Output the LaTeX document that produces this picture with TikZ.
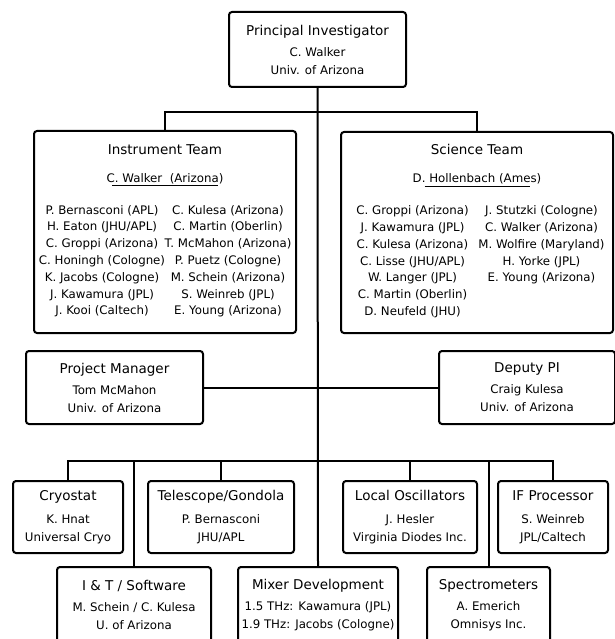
\documentclass[tikz,border=0pt]{standalone}
\usepackage{fontspec}
\setmainfont{DejaVu Sans}
\usetikzlibrary{positioning}
\newcommand{\ttl}{\fontsize{13.5}{16}\selectfont}
\newcommand{\nm}[2][126pt]{\makebox[#1]{#2}}

\begin{document}
\begin{tikzpicture}[x=1pt,y=-1pt,
    box/.style={draw, line width=2pt, rounded corners=3pt, inner sep=0pt, align=center,
      font=\fontsize{11.8}{18}\selectfont},
    link/.style={line width=2pt}]
  \useasboundingbox (0,0) rectangle (614,639);
  % top
  \node[box, minimum width=177pt, minimum height=75pt] (pi) at (317.5,49.5)
    {{\ttl Principal Investigator}\\[3pt] C. Walker\\ Univ. of Arizona};
  % teams
  \node[box, minimum width=262pt, minimum height=202pt] (inst) at (165,232)
    {{\ttl Instrument Team}\\[10pt]
     C. Walker\ \ (Arizona)\\[-14pt]
     \rule{106pt}{0.9pt}\\[10pt]
     {\fontsize{11.8}{16.8}\selectfont
     \begin{tabular}[t]{@{}c@{}c@{}}
       \nm{P. Bernasconi (APL)} & \nm{C. Kulesa (Arizona)}\\
       \nm{H. Eaton (JHU/APL)} & \nm{C. Martin (Oberlin)}\\
       \nm{C. Groppi (Arizona)} & \nm{T. McMahon (Arizona)}\\
       \nm{C. Honingh (Cologne)} & \nm{P. Puetz (Cologne)}\\
       \nm{K. Jacobs (Cologne)} & \nm{M. Schein (Arizona)}\\
       \nm{J. Kawamura (JPL)} & \nm{S. Weinreb (JPL)}\\
       \nm{J. Kooi (Caltech)} & \nm{E. Young (Arizona)}
     \end{tabular}}};
  \node[box, minimum width=272pt, minimum height=201pt] (sci) at (477,232.5)
    {{\ttl Science Team}\\[10pt]
     D. Hollenbach (Ames)\\[-14pt]
     \rule{105pt}{0.9pt}\\[10pt]
     {\fontsize{11.8}{16.8}\selectfont
     \begin{tabular}[t]{@{}c@{}c@{}}
       \nm[129pt]{C. Groppi (Arizona)} & \nm[129pt]{J. Stutzki (Cologne)}\\
       \nm[129pt]{J. Kawamura (JPL)} & \nm[129pt]{C. Walker (Arizona)}\\
       \nm[129pt]{C. Kulesa (Arizona)} & \nm[129pt]{M. Wolfire (Maryland)}\\
       \nm[129pt]{C. Lisse (JHU/APL)} & \nm[129pt]{H. Yorke (JPL)}\\
       \nm[129pt]{W. Langer (JPL)} & \nm[129pt]{E. Young (Arizona)}\\
       \nm[129pt]{C. Martin (Oberlin)} & \\
       \nm[129pt]{D. Neufeld (JHU)} &
     \end{tabular}}};
  % managers
  \node[box, minimum width=177pt, minimum height=73pt] (pm) at (114.5,387.5)
    {{\ttl Project Manager}\\[3pt] Tom McMahon\\ Univ. of Arizona};
  \node[box, minimum width=176pt, minimum height=73pt] (dpi) at (527,387.5)
    {{\ttl Deputy PI}\\[3pt] Craig Kulesa\\ Univ. of Arizona};
  % subsystems, upper row
  \node[box, minimum width=110pt, minimum height=72pt] (cryo) at (68,517)
    {{\ttl Cryostat}\\[5pt] K. Hnat\\ Universal Cryo};
  \node[box, minimum width=146pt, minimum height=72pt] (tel) at (221,517)
    {{\ttl Telescope/Gondola}\\[5pt] P. Bernasconi\\ JHU/APL};
  \node[box, minimum width=134pt, minimum height=72pt] (lo) at (410,517)
    {{\ttl Local Oscillators}\\[5pt] J. Hesler\\ Virginia Diodes Inc.};
  \node[box, minimum width=110pt, minimum height=72pt] (ifp) at (553,517)
    {{\ttl IF Processor}\\[5pt] S. Weinreb\\ JPL/Caltech};
  % subsystems, lower row
  \node[box, minimum width=154pt, minimum height=76pt] (its) at (134,605)
    {{\ttl I \& T / Software}\\[3pt] M. Schein / C. Kulesa\\ U. of Arizona};
  \node[box, minimum width=160pt, minimum height=76pt] (mix) at (318,605)
    {{\ttl Mixer Development}\\[3pt] 1.5 THz: Kawamura (JPL)\\ 1.9 THz: Jacobs (Cologne)};
  \node[box, minimum width=123pt, minimum height=76pt] (spec) at (488.5,605)
    {{\ttl Spectrometers}\\[3pt] A. Emerich\\ Omnisys Inc.};
  % connectors
  \coordinate (topbar) at (318,112);
  \coordinate (lowbar) at (318,461);
  \draw[link] (pi.south) -- (mix.north);
  \draw[link] (inst.north) -- (inst.north |- topbar) -- (sci.north |- topbar) -- (sci.north);
  \draw[link] (pm.east) -- (dpi.west);
  \draw[link] (cryo.north) -- (cryo.north |- lowbar) -- (ifp.north |- lowbar) -- (ifp.north);
  \draw[link] (tel.north) -- (tel.north |- lowbar);
  \draw[link] (lo.north) -- (lo.north |- lowbar);
  \draw[link] (its.north) -- (its.north |- lowbar);
  \draw[link] (spec.north) -- (spec.north |- lowbar);
\end{tikzpicture}
\end{document}
